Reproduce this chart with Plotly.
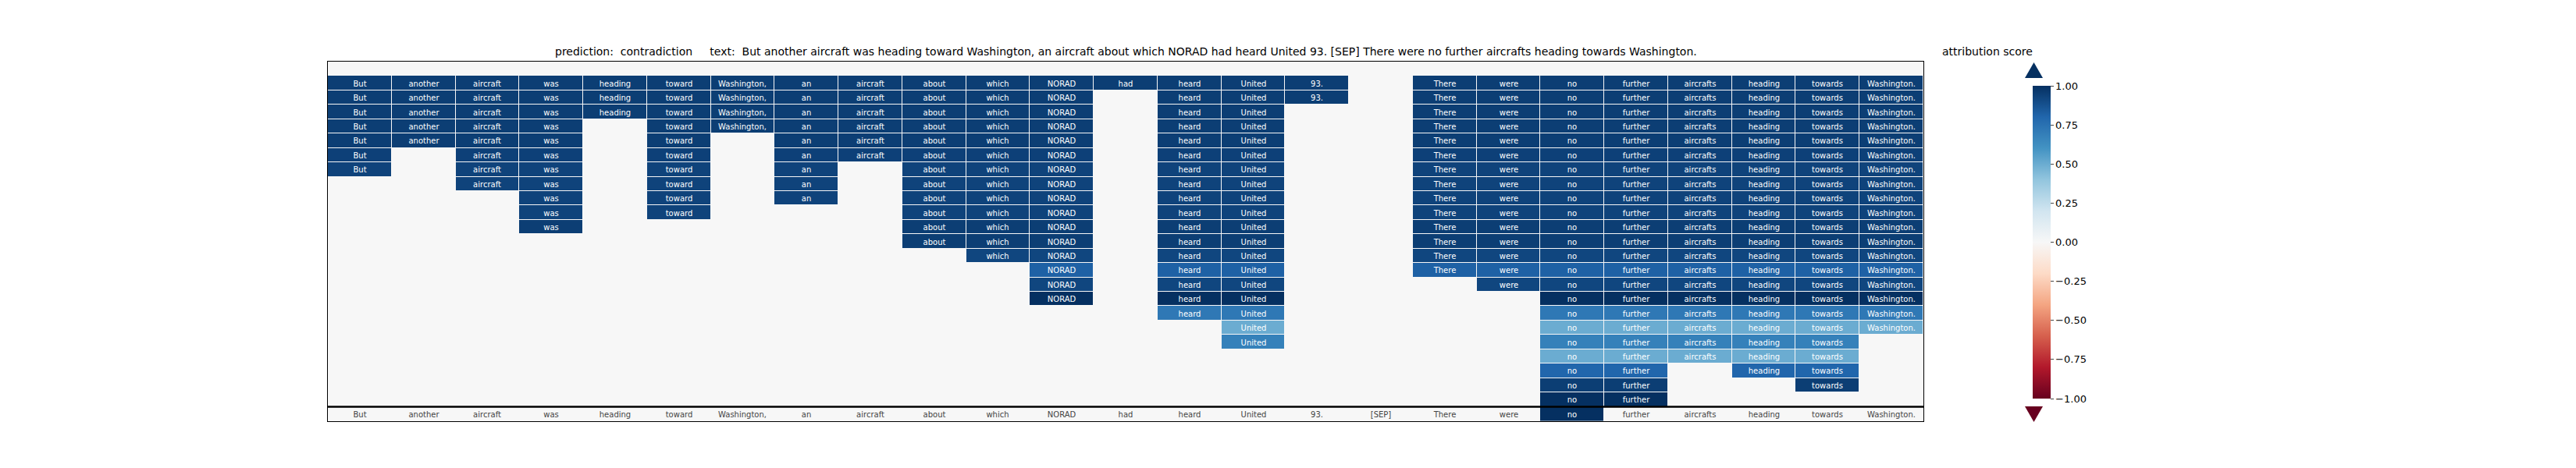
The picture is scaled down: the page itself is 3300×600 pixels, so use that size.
import plotly.graph_objects as go

tokens = ["But", "another", "aircraft", "was", "heading", "toward", "Washington,", "an", "aircraft",
          "about", "which", "NORAD", "had", "heard", "United", "93.", "[SEP]", "There", "were", "no",
          "further", "aircrafts", "heading", "towards", "Washington."]
# last attribution row (1-based) in which each token is still present (0 = never)
last_row = [7, 5, 8, 11, 3, 10, 4, 9, 6, 12, 13, 16, 1, 17, 19, 2, 0, 14, 15, 23, 23, 20, 21, 22, 18]
# attribution score of each row (row 0 is empty)
row_score = [0.0, 0.95, 0.95, 0.95, 0.95, 0.95, 0.94, 0.93, 0.93, 0.93, 0.93, 0.95, 0.95, 0.92,
             0.82, 0.92, 1.0, 0.72, 0.5, 0.68, 0.5, 0.8, 0.95, 1.0]
# score of the bottom token row
label_score = [0.0] * 19 + [1.0] + [0.0] * 5

ticks = [1.0, 0.75, 0.5, 0.25, 0.0, -0.25, -0.5, -0.75, -1.0]
tick_text = ["1.00", "0.75", "0.50", "0.25", "0.00", "\u22120.25", "\u22120.50", "\u22120.75", "\u22121.00"]

nrow = len(row_score)
z, txt = [], []
for r in range(nrow):
    zr, tr = [], []
    for c, t in enumerate(tokens):
        if r >= 1 and r <= last_row[c]:
            zr.append(row_score[r]); tr.append(t)
        else:
            zr.append(0.0); tr.append("")
    z.append(zr); txt.append(tr)

rdbu = [[0.0, "#67001f"], [0.1, "#b2182b"], [0.2, "#d6604d"], [0.3, "#f4a582"], [0.4, "#fddbc7"],
        [0.5, "#f7f7f7"], [0.6, "#d1e5f0"], [0.7, "#92c5de"], [0.8, "#4393c3"], [0.9, "#2166ac"],
        [1.0, "#053061"]]

W, H = 3300, 600
L, R, T, B = 412, 2456, 71, 532
def px(x): return (x - L) / (R - L)
def py(y): return (B - y) / (B - T)

fig = go.Figure()
fig.add_trace(go.Heatmap(
    z=z, x=list(range(len(tokens))), y=list(range(nrow)), text=txt, texttemplate="%{text}",
    textfont=dict(color="white", size=10, family="DejaVu Sans"),
    colorscale=rdbu, zmin=-1, zmax=1, xgap=1, ygap=1,
    colorbar=dict(lenmode="pixels", len=421, thickness=23, x=px(2586), xanchor="left",
                  y=py(302.5), yanchor="middle", tickvals=ticks, ticktext=tick_text,
                  ticks="outside", ticklen=4, outlinewidth=0,
                  tickfont=dict(size=13, family="DejaVu Sans", color="black")),
))
fig.add_trace(go.Heatmap(
    z=[label_score], x=list(range(len(tokens))), y=[nrow], text=[tokens], texttemplate="%{text}",
    textfont=dict(size=10, family="DejaVu Sans"),
    colorscale=rdbu, zmin=-1, zmax=1, xgap=1, showscale=False,
))

shapes = [
    dict(type="line", xref="paper", yref="y", x0=0, x1=1, y0=nrow - 0.5, y1=nrow - 0.5,
         line=dict(color="black", width=2.5)),
    dict(type="path", xref="paper", yref="paper",
         path=f"M {px(2586)} {py(92)} L {px(2597.5)} {py(72)} L {px(2609)} {py(92)} Z",
         fillcolor="#053061", line=dict(width=0)),
    dict(type="path", xref="paper", yref="paper",
         path=f"M {px(2586)} {py(513)} L {px(2597.5)} {py(533)} L {px(2609)} {py(513)} Z",
         fillcolor="#67001f", line=dict(width=0)),
]

title = ("prediction:  contradiction     text:  But another aircraft was heading toward Washington, "
         "an aircraft about which NORAD had heard United 93. [SEP] There were no further aircrafts "
         "heading towards Washington.")
fig.update_layout(
    width=W, height=H, margin=dict(l=L, r=W - R, t=T, b=H - B),
    paper_bgcolor="white", plot_bgcolor="#f7f7f7", shapes=shapes,
    annotations=[
        dict(text=title, xref="paper", yref="paper", x=0.5, y=py(58), showarrow=False,
             font=dict(size=14, family="DejaVu Sans", color="black"), yanchor="middle"),
        dict(text="attribution score", xref="paper", yref="paper", x=px(2597.5), y=py(58),
             showarrow=False, font=dict(size=14, family="DejaVu Sans", color="black"), yanchor="middle"),
    ],
)
fig.update_xaxes(showticklabels=False, ticks="", showgrid=False, zeroline=False,
                 range=[-0.5, len(tokens) - 0.5], showline=True, linecolor="black", linewidth=1, mirror=True)
fig.update_yaxes(showticklabels=False, ticks="", showgrid=False, zeroline=False,
                 range=[nrow + 0.5, -0.5], showline=True, linecolor="black", linewidth=1, mirror=True)
fig.write_html("out.html")
